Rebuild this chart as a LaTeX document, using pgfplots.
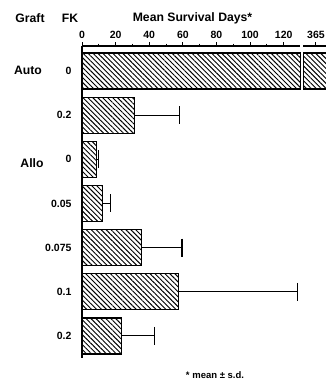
\documentclass[border=0pt]{standalone}
\usepackage{pgfplots}
\pgfplotsset{compat=1.18}
\usepackage{pgfplotstable}
\usepackage{fontspec}
\setmainfont{Liberation Sans}
\usetikzlibrary{patterns.meta}

\pgfplotstableread{
i v e
1 31 27
2 8.5 1.5
3 12 4.8
4 35.5 24
5 57.4 70.6
6 23.7 19.7
}\bars

\begin{document}
\begin{tikzpicture}
\path[use as bounding box] (0,0) rectangle (326pt,-386pt);
\pgfplotsset{
  hatch/.style={draw=black, line width=1.2pt, pattern={Lines[angle=-45,distance=3.5pt,line width=0.95pt]}},
  common/.style={scale only axis, height=312pt,
    ymin=-0.566, ymax=6.5, y dir=reverse,
    axis x line*=top, axis line style={line width=1.2pt, -},
    tick align=outside, major tick length=4pt, minor tick length=2.5pt,
    every tick/.style={line width=0.9pt, black},
    /pgf/number format/assume math mode=true,
    ticklabel style={font=\bfseries\fontsize{10.5}{12}\selectfont},
  },
}
\begin{axis}[common, at={(82pt,-46pt)}, anchor=north west, width=218.5pt,
  xmin=0, xmax=130,
  axis y line*=left,
  xtick={0,20,...,120}, minor x tick num=1,
  ytick={0,...,6}, yticklabels={0,0.2,0,0.05,0.075,0.1,0.2},
  ytick style={draw=none},
  yticklabel style={xshift=-3pt},
  clip=false, xbar, bar width=36pt,
]
\addplot[hatch, bar shift=0pt] coordinates {(130,0)};
\addplot[hatch, bar shift=0pt,
  error bars/.cd, x dir=plus, x explicit, error mark=|,
  error bar style={line width=1.1pt, black},
  error mark options={mark size=9pt, line width=1.1pt, black}]
  table[x=v, y=i, x error=e] {\bars};
\end{axis}

\begin{axis}[common, at={(303pt,-46pt)}, anchor=north west, width=23pt,
  xmin=357.3, xmax=371,
  axis y line=none, ytick=\empty,
  xtick={365}, minor xtick={},
]
\addplot[hatch] coordinates {(357.7,-0.407) (380,-0.407) (380,0.407) (357.7,0.407)} -- cycle;
\end{axis}

\begin{scope}[font=\bfseries\fontsize{12.2}{14}\selectfont]
\node at (30pt,-18pt) {Graft};
\node at (70pt,-18pt) {FK};
\node at (192.5pt,-18pt) {Mean Survival Days*};
\node at (28pt,-70pt) {Auto};
\node at (32pt,-163pt) {Allo};
\end{scope}
\node[font=\bfseries\fontsize{9.5}{11}\selectfont] at (215pt,-375pt) {* mean ± s.d.};
\end{tikzpicture}
\end{document}
